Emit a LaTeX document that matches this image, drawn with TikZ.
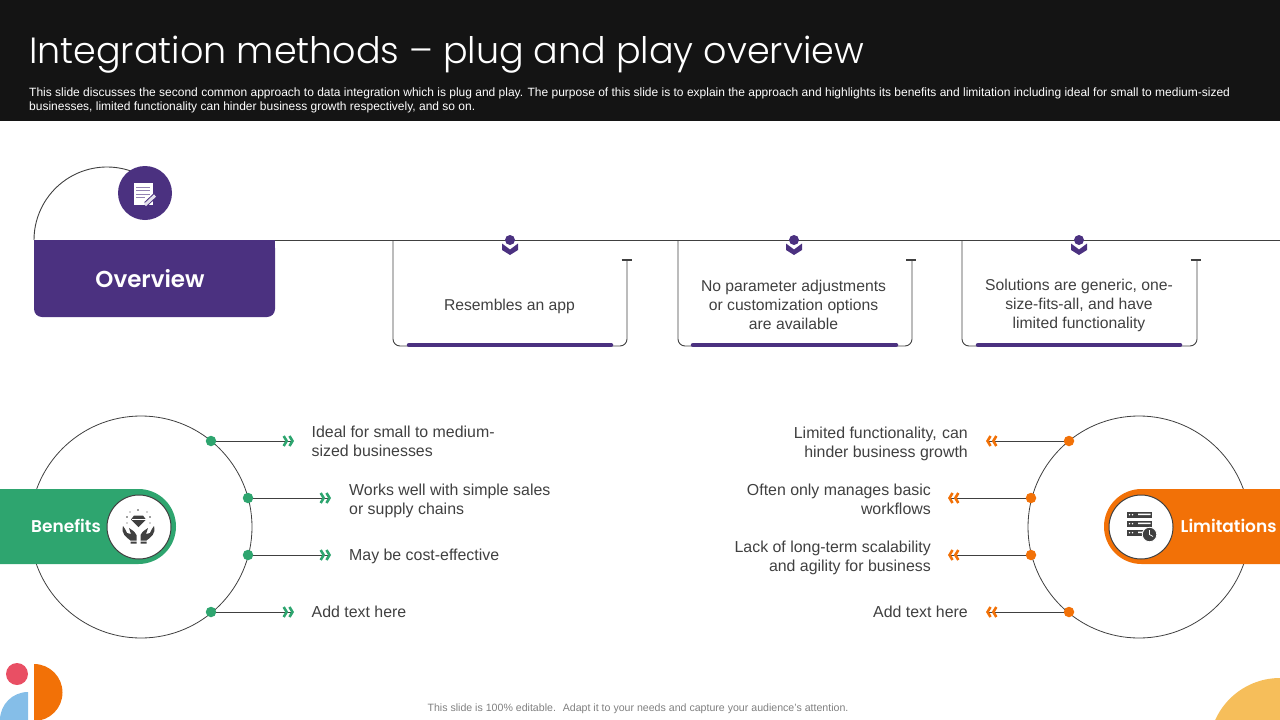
\documentclass[tikz,border=0pt]{standalone}
\usepackage{fontspec}
\setmainfont{Liberation Sans}
\newfontfamily\headfont[UprightFont=* Light,BoldFont=* SemiBold]{Poppins}
\usetikzlibrary{positioning,arrows.meta}
\definecolor{plum}{HTML}{4B3180}
\definecolor{leaf}{HTML}{2EA56F}
\definecolor{amber}{HTML}{F27107}
\definecolor{ink}{HTML}{404040}
\definecolor{rose}{HTML}{E94F64}
\definecolor{sky}{HTML}{85BEE8}
\definecolor{sand}{HTML}{F6BE5A}
\tikzset{
  rule/.style={draw=ink, line width=0.9pt},
  ringline/.style={draw=ink, line width=0.8pt, circle, minimum size=222pt, inner sep=0},
  dot/.style={circle, inner sep=0, minimum size=10.5pt, fill=#1},
  medal/.style={circle, inner sep=0, minimum size=64pt, fill=white, draw=ink, line width=1pt},
  bodytext/.style={inner sep=0, text=ink, font=\fontsize{15.9}{19}\selectfont},
  cardtext/.style={inner sep=0, text=ink, align=center, font=\fontsize{15.7}{19}\selectfont},
  bandtext/.style={inner sep=0, text=white, font=\headfont\bfseries\fontsize{17}{20}\selectfont},
  greentip/.style={rule, -{Straight Barb[leaf, line width=2.6pt, length=3pt, width=10pt] Straight Barb[leaf, line width=2.6pt, length=3pt, width=10pt]}},
  orangetip/.style={rule, -{Straight Barb[amber, line width=2.6pt, length=3pt, width=10pt] Straight Barb[amber, line width=2.6pt, length=3pt, width=10pt]}},
  bar/.style={draw=plum, line width=4.5pt, line cap=round},
  pin/.style={fill=plum},
  tcap/.style={draw=ink, line width=1.6pt},
}
\begin{document}
\begin{tikzpicture}[x=1pt, y=1pt]
\useasboundingbox (0,0) rectangle (1280,-720);
% header
\fill[black!92] (0,0) rectangle (1280,-121);
\node[anchor=base west, inner sep=0, text=white, font=\headfont\fontsize{36.5}{40}\selectfont] (title) at (29,-63) {Integration methods – plug and play overview};
\node[anchor=north west, inner sep=0, align=left, text=white, font=\fontsize{12}{14}\selectfont] (subtitle) at (29,-87.5) {This slide discusses the second common approach to data integration which is plug and play. The purpose of this slide is to explain the approach and highlights its benefits and limitation including ideal for small to medium-sized\\businesses, limited functionality can hinder business growth respectively, and so on.};
% overview
\fill[plum, rounded corners=8pt] (34,-240) -- (34,-317) -- (275,-317) -- (275,-240) -- cycle;
\fill[plum] (34,-240) rectangle (275,-250);
\node[inner sep=0, text=white, font=\headfont\bfseries\fontsize{23}{26}\selectfont] (overview) at (150,-279) {Overview};
\coordinate (arcstart) at (34,-240);
\coordinate (linestart) at (275,-240);
\coordinate (lineend) at (1280,-240);
\draw[rule] (arcstart) arc (180:70:73);
\draw[rule] (linestart) -- (lineend);
\node[circle, fill=plum, minimum size=54pt, inner sep=0] (noteicon) at (145,-193) {};
\fill[white] (133.5,-182.5) rectangle (152.5,-204.5);
\draw[plum!60!white, line width=0.8pt] (136,-187) -- (150,-187) (136,-190.5) -- (150,-190.5) (136,-194) -- (150,-194) (136,-197.5) -- (145,-197.5);
\draw[plum, line width=5pt] (146,-204) -- (155,-195.5);
\draw[white!85!plum, line width=3pt] (145,-205) -- (155,-195.5);
% cards
\coordinate (cardA) at (393,-240);
\coordinate (capA) at (627,-260);
\coordinate (cardB) at (678,-240);
\coordinate (capB) at (912,-260);
\coordinate (cardC) at (962,-240);
\coordinate (capC) at (1197,-260);
\draw[rule, rounded corners=7pt] (cardA) |- (627,-346) -- (capA);
\draw[rule, rounded corners=7pt] (cardB) |- (912,-346) -- (capB);
\draw[rule, rounded corners=7pt] (cardC) |- (1197,-346) -- (capC);
\draw[tcap] (621.5,-260) -- (631.5,-260);
\draw[tcap] (906,-260) -- (916,-260);
\draw[tcap] (1190.5,-260) -- (1200.5,-260);
\draw[bar] (409,-345) -- (611,-345);
\draw[bar] (693,-345) -- (896,-345);
\draw[bar] (978,-345) -- (1180,-345);
\foreach \cx in {510,794,1079} {
  \fill[pin] (\cx,-240) circle (5);
  \fill[pin] (\cx-8,-243.5) -- (\cx,-249.5) -- (\cx+8,-243.5) -- (\cx+8,-250) -- (\cx,-255) -- (\cx-8,-250) -- cycle;
}
\node[cardtext] (textA) at (509.5,-306) {Resembles an app};
\node[cardtext] (textB) at (793.5,-304.5) {No parameter adjustments\\or customization options\\are available};
\node[cardtext] (textC) at (1079,-305.5) {Solutions are generic, one-\\size-fits-all, and have\\limited functionality};
% benefits
\node[ringline] (benring) at (141,-527) {};
\fill[leaf] (0,-489) -- (138.5,-489) arc (90:-90:37.5) -- (0,-564) -- cycle;
\node[medal] (benmedal) at (139,-527) {};
\node[bandtext, left=5.5pt of benmedal, yshift=1pt] (bentext) {Benefits};
\fill[ink] (131,-519.5) -- (134,-515.5) -- (143,-515.5) -- (146,-519.5) -- (138.5,-527) -- cycle;
\draw[white, line width=0.4pt] (131.5,-519.5) -- (145.5,-519.5);
\fill[ink] (138,-510) circle (0.8) (127,-517) circle (0.8) (150,-517) circle (0.8) (130,-512) circle (0.7) (147,-512) circle (0.7) (127,-523) circle (0.7) (150,-523) circle (0.7);
\fill[ink] (123,-526) .. controls (121,-534) and (126,-537) .. (130.5,-540.5) -- (136.5,-540.5) -- (136.5,-535) .. controls (134,-530) and (131,-530) .. (129,-528) -- (131,-534) -- (127,-533) .. controls (125.5,-531) and (125.5,-528) .. (123,-526) -- cycle;
\fill[ink] (154,-526) .. controls (156,-534) and (151,-537) .. (146.5,-540.5) -- (140.5,-540.5) -- (140.5,-535) .. controls (143,-530) and (146,-530) .. (148,-528) -- (146,-534) -- (150,-533) .. controls (151.5,-531) and (151.5,-528) .. (154,-526) -- cycle;
\fill[ink] (130.5,-541.5) rectangle (136.5,-543.5) (140.5,-541.5) rectangle (146.5,-543.5);
\node[dot=leaf] (ben1) at (211,-441) {};
\node[dot=leaf] (ben2) at (248,-498) {};
\node[dot=leaf] (ben3) at (248,-555) {};
\node[dot=leaf] (ben4) at (211,-612) {};
\coordinate[right=83pt of ben1.center] (benend1);
\coordinate[right=83pt of ben2.center] (benend2);
\coordinate[right=83pt of ben3.center] (benend3);
\coordinate[right=83pt of ben4.center] (benend4);
\path[greentip]
  (ben1) edge (benend1)
  (ben2) edge (benend2)
  (ben3) edge (benend3)
  (ben4) edge (benend4);
\node[bodytext, align=left, right=17.5pt of benend1, yshift=-0.5pt] (bentext1) {Ideal for small to medium-\\sized businesses};
\node[bodytext, align=left, right=18pt of benend2, yshift=-2.5pt] (bentext2) {Works well with simple sales\\or supply chains};
\node[bodytext, align=left, right=18pt of benend3, yshift=-1.5pt] (bentext3) {May be cost-effective};
\node[bodytext, align=left, right=17.5pt of benend4] (bentext4) {Add text here};
% limitations
\node[ringline] (limring) at (1139,-527) {};
\fill[amber] (1280,-489) -- (1141.5,-489) arc (90:270:37.5) -- (1280,-564) -- cycle;
\node[medal] (limmedal) at (1141,-527) {};
\node[bandtext, right=7pt of limmedal, yshift=1pt] (limtext) {Limitations};
\foreach \ry in {-512,-521,-530} {
  \fill[ink] (1127,\ry) rectangle (1152,\ry-5.5);
  \fill[white] (1129.5,\ry-2.7) circle (0.8) (1132.5,\ry-2.7) circle (0.8);
}
\fill[white] (1138,-513.5) rectangle (1150.5,-515) (1138,-522.5) rectangle (1150.5,-524) (1138,-531.5) rectangle (1146,-533);
\node[circle, fill=ink, draw=white, line width=0.8pt, minimum size=14.5pt, inner sep=0] (clock) at (1149.5,-534.5) {};
\draw[white, line width=0.7pt] (1149.5,-530) -- (1149.5,-534.5) -- (1153,-536.5);
\node[dot=amber] (lim1) at (1069,-441) {};
\node[dot=amber] (lim2) at (1031,-498) {};
\node[dot=amber] (lim3) at (1031,-555) {};
\node[dot=amber] (lim4) at (1069,-612) {};
\coordinate[left=83pt of lim1.center] (limend1);
\coordinate[left=83pt of lim2.center] (limend2);
\coordinate[left=83pt of lim3.center] (limend3);
\coordinate[left=83pt of lim4.center] (limend4);
\path[orangetip]
  (lim1) edge (limend1)
  (lim2) edge (limend2)
  (lim3) edge (limend3)
  (lim4) edge (limend4);
\node[bodytext, align=right, left=18pt of limend1, yshift=-2.5pt] (limtext1) {Limited functionality,\hspace{1pt} can\\hinder business growth};
\node[bodytext, align=right, left=17pt of limend2, yshift=-1pt] (limtext2) {Often only manages basic\\workflows};
\node[bodytext, align=right, left=17pt of limend3, yshift=-2.5pt] (limtext3) {Lack of long-term scalability\\and agility for business};
\node[bodytext, align=right, left=18pt of limend4] (limtext4) {Add text here};
% footer and corners
\node[inner sep=0, text=black!50, font=\fontsize{10.6}{12}\selectfont] (footer) at (638,-709) {This slide is 100\% editable.~ Adapt it to your needs and capture your audience's attention.};
\fill[rose] (17,-674) circle (11);
\fill[sky] (28,-720) -- (0,-720) arc (180:90:28) -- cycle;
\fill[amber] (34,-664) arc (90:-90:28.5) -- cycle;
\begin{scope}
\clip (1200,-660) rectangle (1280,-720);
\fill[sand] (1280,-749) circle (71);
\end{scope}
\end{tikzpicture}
\end{document}
